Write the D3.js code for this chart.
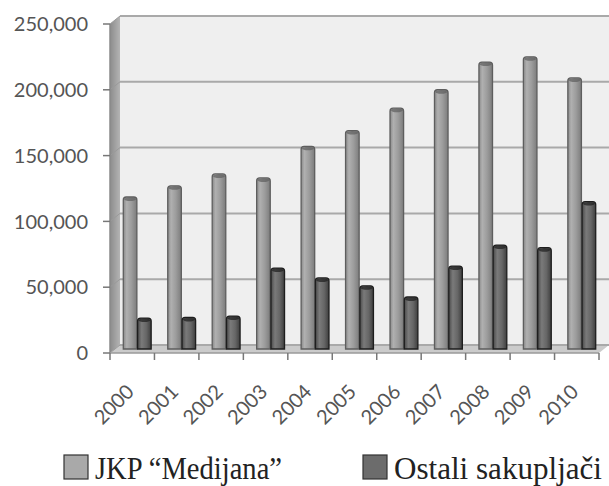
<!DOCTYPE html>
<html lang="en">
<head>
<meta charset="UTF-8">
<title>JKP Medijana vs Ostali sakupljači</title>
<style>
    body { margin: 0; background: #fff; }
    svg { display: block; }
    .ytick text, .xtick text { font-family: Lato, "Open Sans", sans-serif; fill: #555; }
    .legend text { font-family: "Liberation Serif", "DejaVu Serif", serif; fill: #222; }
</style>
</head>
<body>
<svg width="609" height="486"></svg>
<script src="https://d3js.org/d3.v7.min.js"></script>
<script>
    // data
    const years = ["2000", "2001", "2002", "2003", "2004", "2005", "2006", "2007", "2008", "2009", "2010"];
    const medijana = [115500, 124000, 133000, 130000, 154000, 166000, 183000, 197000, 218000, 222000, 206000];
    const ostali = [23500, 24000, 25000, 61500, 54000, 48000, 39500, 63000, 79000, 77000, 112000];
    const seriesNames = ["JKP “Medijana”", "Ostali sakupljači"];
    const yTicks = [0, 50000, 100000, 150000, 200000, 250000];

    const svg = d3.select("svg");
    const depthX = 10, depthY = -8;   // 3d depth of the walls
    const pLeft = 110, pRight = 599, pTop = 24, pBottom = 353;

    const x = d3.scaleBand().domain(years).range([pLeft, pRight]);
    const y = d3.scaleLinear().domain([0, 250000]).range([pBottom, pTop]);
    const sub = d3.scaleBand().domain([0, 1]).range([0, x.bandwidth()]).paddingInner(0.05).paddingOuter(0.58);
    const fmt = d3.format(",");

    const defs = svg.append("defs");
    const lg = (id, stops) => {
        const g = defs.append("linearGradient").attr("id", id).attr("x1", 0).attr("x2", 1).attr("y1", 0).attr("y2", 0);
        stops.forEach(s => g.append("stop").attr("offset", s[0]).attr("stop-color", s[1]));
    };
    lg("gMed", [[0, "#8a8a8a"], [0.25, "#b0b0b0"], [0.6, "#9c9c9c"], [1, "#7c7c7c"]]);
    lg("gOst", [[0, "#4a4a4a"], [0.3, "#7a7a7a"], [0.65, "#666"], [1, "#3e3e3e"]]);
    lg("gWall", [[0, "#8c8c8c"], [1, "#b4b4b4"]]);

    // back wall
    svg.append("rect")
        .attr("x", pLeft + depthX).attr("y", pTop + depthY)
        .attr("width", 609 - pLeft - depthX).attr("height", pBottom - pTop)
        .attr("fill", "#efefef");

    // left wall
    svg.append("path")
        .attr("d", `M${pLeft},${pTop}L${pLeft + depthX},${pTop + depthY}L${pLeft + depthX},${pBottom + depthY}L${pLeft},${pBottom}Z`)
        .attr("fill", "url(#gWall)");

    // floor
    svg.append("path")
        .attr("d", `M${pLeft},${pBottom}L${pLeft + depthX},${pBottom + depthY}L609,${pBottom + depthY}L${pRight},${pBottom}Z`)
        .attr("fill", "#cbcbcb");

    // gridlines
    const grid = svg.append("g");
    yTicks.forEach(t => {
        grid.append("line")
            .attr("x1", pLeft + depthX).attr("x2", 609)
            .attr("y1", y(t) + depthY).attr("y2", y(t) + depthY)
            .attr("stroke", "#a9a9a9").attr("stroke-width", 2);
        grid.append("line")
            .attr("x1", pLeft).attr("x2", pLeft + depthX)
            .attr("y1", y(t)).attr("y2", y(t) + depthY)
            .attr("stroke", "#9a9a9a").attr("stroke-width", 1);
    });

    // y axis
    svg.append("line").attr("x1", pLeft).attr("x2", pLeft).attr("y1", pTop).attr("y2", pBottom)
        .attr("stroke", "#8a8a8a").attr("stroke-width", 1.5);
    const yt = svg.append("g").attr("class", "ytick").selectAll("g").data(yTicks).enter().append("g");
    yt.append("line").attr("x1", pLeft - 7).attr("x2", pLeft).attr("y1", d => y(d)).attr("y2", d => y(d))
        .attr("stroke", "#777").attr("stroke-width", 1.5);
    yt.append("text").attr("x", 88).attr("y", d => y(d)).attr("dy", "0.36em")
        .attr("text-anchor", "end").attr("font-size", 20).text(d => fmt(d));

    // x axis
    svg.append("line").attr("x1", pLeft).attr("x2", pRight).attr("y1", pBottom).attr("y2", pBottom)
        .attr("stroke", "#9a9a9a").attr("stroke-width", 1.5);
    const xt = svg.append("g").attr("class", "xtick");
    years.concat(["end"]).forEach((yr, i) => {
        const xx = i < years.length ? x(yr) : pRight;
        xt.append("line").attr("x1", xx).attr("x2", xx).attr("y1", pBottom).attr("y2", pBottom + 7)
            .attr("stroke", "#777").attr("stroke-width", 1.5);
    });
    xt.selectAll("text").data(years).enter().append("text")
        .attr("transform", d => `translate(${x(d) + x.bandwidth() / 2 + 3},${pBottom + 40}) rotate(-45)`)
        .attr("text-anchor", "end").attr("font-size", 20).text(d => d);

    // bars, set at half depth
    const bx = depthX / 2, by = depthY / 2;
    const drawBars = (vals, k, fill, stroke) => {
        const g = svg.append("g");
        vals.forEach((v, i) => {
            const x0 = x(years[i]) + sub(k) + bx;
            const w = sub.bandwidth();
            const yTop = y(v) + by, yBot = y(0) + by;
            g.append("path")
                .attr("d", `M${x0},${yBot}L${x0},${yTop + 3}Q${x0},${yTop} ${x0 + 3},${yTop}L${x0 + w - 3},${yTop}Q${x0 + w},${yTop} ${x0 + w},${yTop + 3}L${x0 + w},${yBot}Z`)
                .attr("fill", fill).attr("stroke", stroke).attr("stroke-width", 1.3);
            g.append("ellipse").attr("cx", x0 + w / 2).attr("cy", yTop + 2.2)
                .attr("rx", w / 2 - 1).attr("ry", 1.8)
                .attr("fill", stroke).attr("opacity", 0.7);
        });
    };
    drawBars(medijana, 0, "url(#gMed)", "#5e5e5e");
    drawBars(ostali, 1, "url(#gOst)", "#1e1e1e");

    // legend
    const leg = svg.append("g").attr("class", "legend");
    const legItems = [
        {name: seriesNames[0], x: 64, fill: "#a9a9a9", w: 187},
        {name: seriesNames[1], x: 363, fill: "#6c6c6c", w: 208}
    ];
    legItems.forEach(it => {
        leg.append("rect").attr("x", it.x).attr("y", 455).attr("width", 24).attr("height", 24)
            .attr("fill", it.fill).attr("stroke", "#333").attr("stroke-width", 1.2);
        leg.append("text").attr("x", it.x + 31).attr("y", 479).attr("font-size", 32)
            .attr("textLength", it.w).attr("lengthAdjust", "spacingAndGlyphs").text(it.name);
    });
</script>
</body>
</html>
